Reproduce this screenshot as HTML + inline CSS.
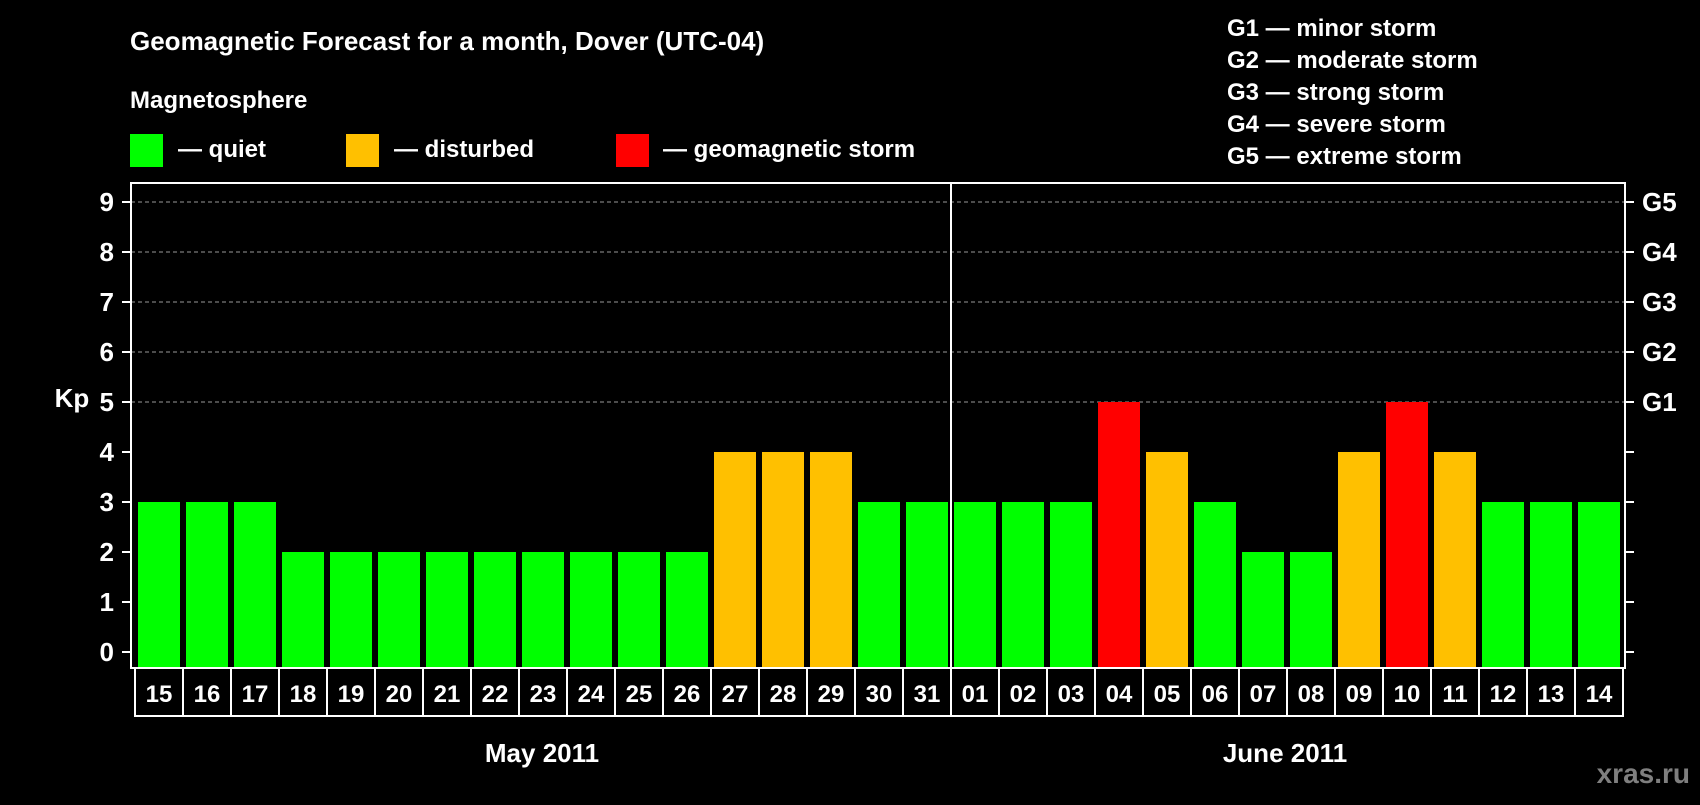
<!DOCTYPE html>
<html><head><meta charset="utf-8"><style>
body{margin:0;background:#000;}
svg text{font-family:"Liberation Sans",Arial,sans-serif;font-weight:bold;fill:#fff;}
</style></head><body>
<svg id="c" width="1700" height="800" viewBox="0 0 1700 800" xmlns="http://www.w3.org/2000/svg">
<rect width="1700" height="800" fill="#000"/>
<text x="130" y="50" font-size="26">Geomagnetic Forecast for a month, Dover (UTC-04)</text>
<text x="130" y="108" font-size="24">Magnetosphere</text>
<rect x="130" y="134" width="33" height="33" fill="#00ff00"/>
<text x="178" y="157" font-size="24">— quiet</text>
<rect x="346" y="134" width="33" height="33" fill="#ffc000"/>
<text x="394" y="157" font-size="24">— disturbed</text>
<rect x="616" y="134" width="33" height="33" fill="#ff0000"/>
<text x="663" y="157" font-size="24">— geomagnetic storm</text>
<g font-size="24">
<text x="1227" y="36">G1 — minor storm</text>
<text x="1227" y="68">G2 — moderate storm</text>
<text x="1227" y="100">G3 — strong storm</text>
<text x="1227" y="132">G4 — severe storm</text>
<text x="1227" y="164">G5 — extreme storm</text>
</g>
<text x="72" y="407" font-size="26" text-anchor="middle">Kp</text>
<text x="542" y="762" font-size="26" text-anchor="middle">May 2011</text>
<text x="1285" y="762" font-size="26" text-anchor="middle">June 2011</text>
<text x="1690" y="783" font-size="28" text-anchor="end" style="fill:#7f7f7f">xras.ru</text>
<g id="plot"></g>
</svg>
<script>
const days=["15","16","17","18","19","20","21","22","23","24","25","26","27","28","29","30","31","01","02","03","04","05","06","07","08","09","10","11","12","13","14"];
const kp=[3,3,3,2,2,2,2,2,2,2,2,2,4,4,4,3,3,3,3,3,5,4,3,2,2,4,5,4,3,3,3];
const yTicks=[0,1,2,3,4,5,6,7,8,9];
const gLabels=["G1","G2","G3","G4","G5"];
const gLevels=[5,6,7,8,9];
const NS="http://www.w3.org/2000/svg";
const g=document.getElementById('plot');
const L=131,R=1625,T=183,B=668,pitch=48,x0=138,bw=42;
function y(v){return 652-v*50;}
function x(i){return x0+i*pitch;}
function color(v){return v>=5?"#ff0000":(v>=4?"#ffc000":"#00ff00");}
function mk(tag,attrs){const e=document.createElementNS(NS,tag);for(const k in attrs)e.setAttribute(k,attrs[k]);g.appendChild(e);return e;}
gLevels.forEach(v=>{
 const l=mk('line',{x1:L,x2:R,y1:y(v),y2:y(v),stroke:'#999','stroke-dasharray':'4,3','stroke-width':1});
 
 
});
kp.forEach((v,i)=>{
 const r=mk('rect',{x:x(i),y:y(v),width:bw,height:B-y(v),fill:color(v)});
 
 
 const b=mk('rect',{x:x(i)-3,y:B,width:pitch,height:48,fill:'none',stroke:'#fff','stroke-width':2});
 
 
 const t=mk('text',{x:x(i)+bw/2,y:B+34,'font-size':24,'text-anchor':'middle'});
 t.textContent=days[i];
 
 
});
yTicks.forEach(v=>{
 const a=mk('line',{x1:122,x2:L,y1:y(v),y2:y(v),stroke:'#fff','stroke-width':2});
 
 
 const b=mk('line',{x1:R,x2:1634,y1:y(v),y2:y(v),stroke:'#fff','stroke-width':2});
 
 
 const t=mk('text',{x:114,y:y(v)+9,'font-size':26,'text-anchor':'end'});
 t.textContent=v;
 
 
});
gLevels.forEach((v,i)=>{
 const t=mk('text',{x:1642,y:y(v)+9,'font-size':26});
 t.textContent=gLabels[i];
 
 
});
const f=mk('rect',{x:L,y:T,width:R-L,height:B-T,fill:'none',stroke:'#fff','stroke-width':2});


const dv=x(17)-3;
const d=mk('line',{x1:dv,x2:dv,y1:T,y2:B,stroke:'#fff','stroke-width':2});


</script>
</body></html>
